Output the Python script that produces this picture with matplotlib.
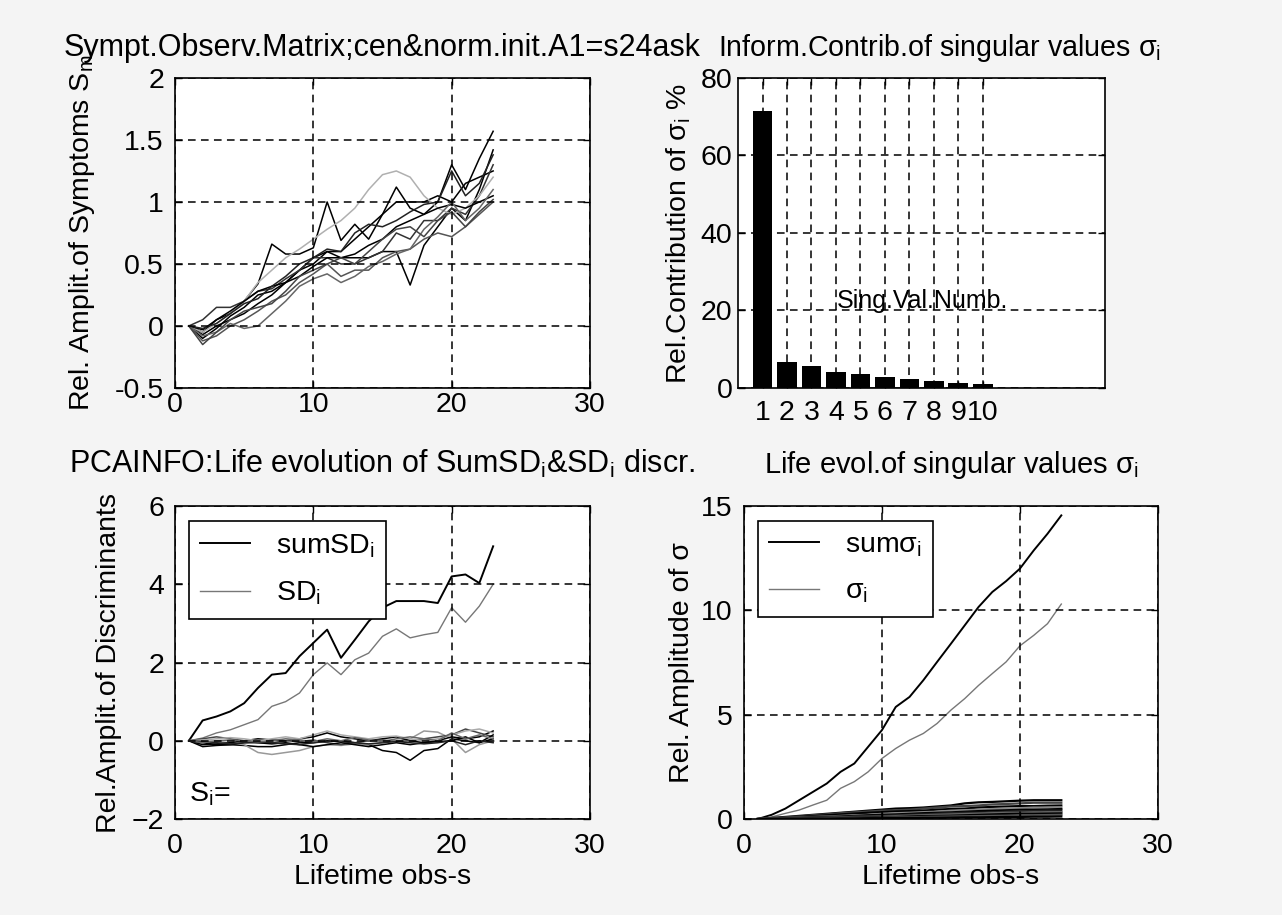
import numpy as np
import matplotlib.pyplot as plt

plt.rcParams['font.family'] = ['Liberation Sans', 'DejaVu Sans']
plt.rcParams['font.size'] = 20.5
plt.rcParams['mathtext.fontset'] = 'custom'
plt.rcParams['mathtext.rm'] = 'Liberation Sans'

# lifetime observations
obs = list(range(1, 24))

# symptom observation matrix (centered & normalised)
symptoms = [
    [0.00, -0.05, 0.05, 0.10, 0.20, 0.34, 0.66, 0.58, 0.58, 0.63, 1.00, 0.69, 0.82, 0.70, 0.90, 1.12, 0.95, 0.90, 1.00, 1.30, 1.10, 1.35, 1.57],
    [0.00, -0.10, -0.02, 0.08, 0.15, 0.25, 0.28, 0.35, 0.45, 0.50, 0.60, 0.55, 0.55, 0.55, 0.60, 0.60, 0.33, 0.65, 0.80, 0.95, 0.85, 1.10, 1.42],
    [0.00, -0.07, 0.00, 0.05, 0.10, 0.18, 0.25, 0.35, 0.45, 0.55, 0.60, 0.60, 0.70, 0.80, 0.90, 1.00, 1.00, 1.00, 1.05, 1.00, 1.15, 1.20, 1.25],
    [0.00, 0.05, 0.15, 0.15, 0.20, 0.28, 0.30, 0.38, 0.45, 0.55, 0.55, 0.50, 0.50, 0.55, 0.60, 0.75, 0.70, 0.85, 0.85, 0.95, 0.90, 1.05, 1.30],
    [0.00, -0.05, 0.02, 0.10, 0.20, 0.35, 0.45, 0.55, 0.62, 0.70, 0.78, 0.85, 0.95, 1.10, 1.22, 1.25, 1.20, 1.05, 0.95, 0.90, 0.95, 1.05, 1.20],
    [0.00, -0.12, -0.08, 0.00, 0.05, 0.12, 0.20, 0.25, 0.35, 0.42, 0.50, 0.40, 0.45, 0.45, 0.55, 0.60, 0.62, 0.70, 0.75, 0.72, 0.80, 0.90, 1.00],
    [0.00, -0.03, 0.05, 0.12, 0.20, 0.28, 0.32, 0.35, 0.40, 0.48, 0.55, 0.55, 0.58, 0.65, 0.70, 0.80, 0.85, 0.90, 0.95, 0.98, 0.95, 1.00, 1.05],
    [0.00, -0.08, -0.05, 0.02, -0.02, 0.00, 0.10, 0.20, 0.32, 0.38, 0.42, 0.35, 0.40, 0.48, 0.52, 0.58, 0.62, 0.78, 0.88, 1.00, 0.85, 0.95, 1.10],
    [0.00, -0.02, 0.02, 0.10, 0.18, 0.22, 0.32, 0.40, 0.50, 0.55, 0.62, 0.60, 0.75, 0.82, 0.80, 0.85, 0.92, 0.98, 1.00, 1.25, 1.05, 1.15, 1.38],
    [0.00, -0.15, -0.05, 0.05, 0.12, 0.15, 0.18, 0.28, 0.40, 0.45, 0.50, 0.55, 0.50, 0.60, 0.70, 0.78, 0.80, 0.72, 0.85, 0.92, 0.80, 0.92, 1.02],
]
symptom_colors = ['black', 'black', 'black', '#333333', '#b0b0b0', '#555555', 'black', '#666666', '#222222', '#444444']

# information contribution of singular values (%)
sv_num = list(range(1, 11))
sv_contrib = [71.5, 6.8, 5.7, 4.0, 3.5, 2.9, 2.3, 1.7, 1.2, 1.0]

# discriminants
sum_sd = [0.00, 0.52, 0.62, 0.75, 0.96, 1.35, 1.69, 1.73, 2.16, 2.50, 2.84, 2.12, 2.58, 3.05, 3.40, 3.57, 3.57, 3.57, 3.52, 4.20, 4.25, 4.03, 4.97]
sd = [0.00, 0.07, 0.20, 0.28, 0.41, 0.54, 0.88, 1.00, 1.22, 1.69, 1.99, 1.69, 2.07, 2.24, 2.67, 2.86, 2.63, 2.71, 2.77, 3.40, 3.03, 3.44, 4.00]
sd_parts = [
    [0, -0.05, -0.10, -0.10, -0.12, -0.15, -0.15, -0.10, -0.05, -0.05, 0.00, -0.02, -0.05, -0.10, -0.25, -0.30, -0.50, -0.25, -0.20, 0.05, 0.00, -0.05, 0.05],
    [0, 0.00, -0.02, -0.05, -0.10, -0.30, -0.35, -0.30, -0.25, -0.15, -0.10, -0.12, -0.08, -0.10, -0.05, 0.00, 0.05, 0.25, 0.22, 0.05, -0.30, -0.10, 0.00],
    [0, -0.10, -0.08, -0.05, 0.00, 0.05, 0.02, 0.00, 0.05, 0.10, 0.20, 0.10, 0.05, 0.00, 0.05, 0.10, 0.00, -0.05, 0.00, 0.10, 0.05, 0.10, 0.25],
    [0, 0.05, 0.10, 0.05, 0.00, -0.05, -0.05, 0.00, -0.02, 0.02, -0.05, -0.10, -0.05, 0.00, 0.02, -0.02, 0.00, 0.05, 0.10, 0.15, 0.30, 0.20, 0.10],
    [0, -0.15, -0.12, -0.10, -0.05, -0.05, -0.08, -0.05, -0.10, -0.15, -0.10, -0.05, -0.10, -0.15, -0.10, -0.05, -0.10, -0.05, -0.02, 0.00, 0.10, -0.05, 0.15],
    [0, 0.02, 0.05, 0.08, 0.05, 0.00, 0.05, 0.10, 0.05, 0.15, 0.25, 0.15, 0.10, 0.05, 0.10, 0.12, 0.05, 0.00, 0.05, 0.15, 0.25, 0.30, 0.20],
    [0, -0.02, -0.05, -0.08, -0.05, -0.02, -0.05, -0.08, -0.10, -0.05, -0.02, 0.00, -0.05, -0.08, -0.05, -0.02, -0.05, -0.08, -0.05, 0.00, -0.10, 0.00, -0.05],
    [0, -0.05, 0.00, 0.02, 0.00, -0.03, 0.00, 0.05, 0.02, -0.02, 0.05, 0.00, 0.08, 0.02, -0.02, 0.05, 0.10, 0.05, 0.00, 0.20, 0.05, 0.15, 0.05],
]
sd_part_colors = ['black', '#999999', 'black', '#444444', 'black', '#aaaaaa', '#222222', '#666666']

# singular values
sum_sigma = [0.00, 0.20, 0.50, 0.90, 1.30, 1.70, 2.26, 2.66, 3.46, 4.26, 5.37, 5.85, 6.65, 7.53, 8.40, 9.28, 10.16, 10.88, 11.40, 12.00, 12.87, 13.67, 14.55]
sigma = [0.00, 0.10, 0.27, 0.43, 0.67, 0.90, 1.47, 1.79, 2.26, 2.90, 3.38, 3.78, 4.10, 4.58, 5.22, 5.77, 6.40, 6.97, 7.53, 8.30, 8.80, 9.36, 10.30]
sigma_parts = [
    [0, 0.05, 0.10, 0.15, 0.20, 0.25, 0.30, 0.35, 0.40, 0.45, 0.50, 0.52, 0.55, 0.60, 0.65, 0.75, 0.80, 0.82, 0.85, 0.88, 0.90, 0.90, 0.90],
    [0, 0.04, 0.08, 0.12, 0.18, 0.22, 0.28, 0.32, 0.36, 0.40, 0.42, 0.45, 0.50, 0.55, 0.60, 0.62, 0.65, 0.70, 0.72, 0.75, 0.78, 0.78, 0.78],
    [0, 0.03, 0.06, 0.10, 0.14, 0.18, 0.22, 0.26, 0.30, 0.33, 0.36, 0.38, 0.40, 0.45, 0.48, 0.50, 0.55, 0.58, 0.60, 0.62, 0.62, 0.64, 0.65],
    [0, 0.02, 0.05, 0.08, 0.10, 0.12, 0.15, 0.18, 0.20, 0.25, 0.28, 0.30, 0.33, 0.35, 0.40, 0.42, 0.45, 0.48, 0.50, 0.52, 0.55, 0.55, 0.55],
    [0, 0.02, 0.04, 0.06, 0.08, 0.10, 0.12, 0.15, 0.18, 0.20, 0.22, 0.25, 0.28, 0.30, 0.32, 0.35, 0.38, 0.40, 0.42, 0.44, 0.45, 0.46, 0.48],
    [0, 0.02, 0.03, 0.05, 0.07, 0.08, 0.10, 0.12, 0.14, 0.15, 0.18, 0.20, 0.22, 0.25, 0.28, 0.30, 0.30, 0.32, 0.35, 0.38, 0.38, 0.40, 0.40],
    [0, 0.01, 0.03, 0.04, 0.05, 0.06, 0.08, 0.10, 0.10, 0.12, 0.14, 0.16, 0.18, 0.20, 0.22, 0.24, 0.26, 0.28, 0.30, 0.30, 0.32, 0.32, 0.33],
    [0, 0.01, 0.02, 0.03, 0.04, 0.05, 0.06, 0.07, 0.08, 0.10, 0.10, 0.12, 0.14, 0.15, 0.16, 0.18, 0.20, 0.22, 0.24, 0.25, 0.25, 0.26, 0.27],
    [0, 0.01, 0.01, 0.02, 0.03, 0.04, 0.05, 0.05, 0.06, 0.07, 0.08, 0.08, 0.10, 0.11, 0.12, 0.13, 0.14, 0.15, 0.16, 0.18, 0.18, 0.19, 0.20],
    [0, 0.00, 0.01, 0.01, 0.02, 0.02, 0.03, 0.03, 0.04, 0.04, 0.05, 0.05, 0.06, 0.06, 0.07, 0.08, 0.08, 0.09, 0.10, 0.10, 0.11, 0.11, 0.12],
]
sigma_part_colors = ['black', '#444444', 'black', '#888888', 'black', '#222222', '#666666', 'black', '#555555', 'black']

GRID = dict(color='black', linestyle=(0, (5, 3.5)), linewidth=1.1)


def _style(ax, xpad, ypad):
    for s in ax.spines.values():
        s.set_linewidth(1.2)
    ax.tick_params(direction='in', top=True, right=True, length=5, width=1)
    ax.tick_params(axis='x', pad=xpad)
    ax.tick_params(axis='y', pad=ypad)
    ax.grid(True, **GRID)
    ax.set_axisbelow(False)


def _legend(ax, handles, labels):
    leg = ax.legend(handles, labels, loc='upper left', bbox_to_anchor=(0.034, 0.952),
                    borderaxespad=0, fancybox=False, framealpha=1, edgecolor='black',
                    handlelength=1.75, handletextpad=0.9, borderpad=0.4, labelspacing=0.7)
    leg.get_frame().set_linewidth(1.2)
    return leg


fig = plt.figure(figsize=(12.82, 9.15), dpi=100, facecolor='#f4f4f4')

# top-left: symptom observation matrix
ax1 = fig.add_axes([0.1365, 0.5760, 0.3237, 0.3388])
for ys, c in zip(symptoms, symptom_colors):
    ax1.plot(obs, ys, color=c, linewidth=1.1)
ax1.set_xlim(0, 30)
ax1.set_ylim(-0.5, 2)
ax1.set_xticks([0, 10, 20, 30])
ax1.set_yticks([-0.5, 0, 0.5, 1, 1.5, 2])
ax1.set_yticklabels(['-0.5', '0', '0.5', '1', '1.5', '2'])
_style(ax1, 3, 8)
ax1.set_title('Sympt.Observ.Matrix;cen&norm.init.A1=s24ask', pad=16, fontsize=22)
ax1.set_ylabel(r'Rel. Amplit.of Symptoms S$\mathregular{_m}$')
ax1.yaxis.set_label_coords(-0.188, 0.5)

# top-right: information contribution bars
ax2 = fig.add_axes([0.5757, 0.5760, 0.2863, 0.3388])
ax2.bar(sv_num, sv_contrib, width=0.8, color='black', zorder=3)
ax2.set_xlim(0, 15)
ax2.set_ylim(0, 80)
ax2.set_xticks(sv_num)
ax2.set_yticks([0, 20, 40, 60, 80])
_style(ax2, 9, 4)
ax2.set_title(r'Inform.Contrib.of singular values σ$\mathregular{_i}$', pad=16, x=0.55, fontsize=20.6)
ax2.set_ylabel(r'Rel.Contribution of σ$\mathregular{_i}$ %')
ax2.yaxis.set_label_coords(-0.123, 0.5)
ax2.text(4.05, 20.6, 'Sing.Val.Numb.', fontsize=18, va='baseline', zorder=4)

# bottom-left: discriminants
ax3 = fig.add_axes([0.1365, 0.1049, 0.3237, 0.3421])
h1, = ax3.plot(obs, sum_sd, color='black', linewidth=1.4)
h2, = ax3.plot(obs, sd, color='#777777', linewidth=1.0)
for ys, c in zip(sd_parts, sd_part_colors):
    ax3.plot(obs, ys, color=c, linewidth=1.1)
ax3.set_xlim(0, 30)
ax3.set_ylim(-2, 6)
ax3.set_xticks([0, 10, 20, 30])
ax3.set_yticks([-2, 0, 2, 4, 6])
_style(ax3, 10, 8)
ax3.set_title(r'PCAINFO:Life evolution of SumSD$\mathregular{_i}$&SD$\mathregular{_i}$ discr.', pad=24, fontsize=22)
ax3.set_ylabel('Rel.Amplit.of Discriminants')
ax3.yaxis.set_label_coords(-0.128, 0.5)
ax3.set_xlabel('Lifetime obs-s', labelpad=4)
ax3.text(1.0, -1.55, r'S$\mathregular{_i}$=', va='baseline')
_legend(ax3, [h1, h2], [r'sumSD$\mathregular{_i}$', r'SD$\mathregular{_i}$'])

# bottom-right: singular values
ax4 = fig.add_axes([0.5803, 0.1049, 0.3229, 0.3421])
g1, = ax4.plot(obs, sum_sigma, color='black', linewidth=1.4)
g2, = ax4.plot(obs, sigma, color='#777777', linewidth=1.0)
for ys, c in zip(sigma_parts, sigma_part_colors):
    ax4.plot(obs, ys, color=c, linewidth=1.6)
ax4.set_xlim(0, 30)
ax4.set_ylim(0, 15)
ax4.set_xticks([0, 10, 20, 30])
ax4.set_yticks([0, 5, 10, 15])
_style(ax4, 10, 8)
ax4.set_title(r'Life evol.of singular values σ$\mathregular{_i}$', pad=24, fontsize=21)
ax4.set_ylabel('Rel. Amplitude of σ')
ax4.yaxis.set_label_coords(-0.118, 0.5)
ax4.set_xlabel('Lifetime obs-s', labelpad=4)
_legend(ax4, [g1, g2], [r'sumσ$\mathregular{_i}$', r'σ$\mathregular{_i}$'])

fig.savefig('out.png', dpi=100, facecolor=fig.get_facecolor())
